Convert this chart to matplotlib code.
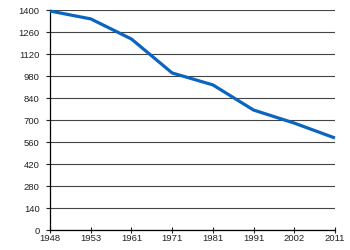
import numpy as np
import matplotlib.pyplot as plt

years = ['1948', '1953', '1961', '1971', '1981', '1991', '2002', '2011']
values = [1395, 1345, 1217, 1001, 925, 765, 682, 587]
yticks = [0, 140, 280, 420, 560, 700, 840, 980, 1120, 1260, 1400]

plt.rcParams['font.family'] = ['Liberation Sans', 'DejaVu Sans']

fig = plt.figure(figsize=(3.5, 2.5), dpi=100)
ax = fig.add_axes([0.143, 0.079, 0.814, 0.88])

x = np.arange(len(years))
ax.plot(x, values, color='#0a64c0', lw=2.3, solid_joinstyle='round',
        solid_capstyle='butt', zorder=3, clip_on=False)

ax.set_xlim(0, len(years) - 1)
ax.set_ylim(0, 1400)
ax.set_xticks(x)
ax.set_xticklabels(years)
ax.set_yticks(yticks)
ax.set_yticklabels([str(v) for v in yticks])

ax.grid(axis='y', color='#444444', lw=0.8)
ax.set_axisbelow(True)
for s in ['top', 'right']:
    ax.spines[s].set_visible(False)
for s in ['left', 'bottom']:
    ax.spines[s].set_color('black')
    ax.spines[s].set_linewidth(0.9)

ax.tick_params(axis='y', labelsize=6.8, colors='#222222', width=0.8, length=3, pad=4.5)
ax.tick_params(axis='x', labelsize=6.8, colors='#222222', width=0.8,
               direction='inout', length=4, pad=0.5)

fig.savefig('out.png', dpi=100)
